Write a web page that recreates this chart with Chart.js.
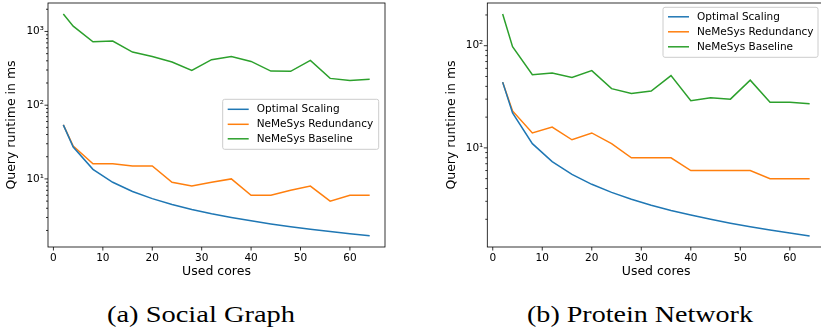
<!DOCTYPE html>
<html><head><meta charset="utf-8">
<script src="https://cdn.jsdelivr.net/npm/chart.js@4/dist/chart.umd.min.js"></script>
<style>
html,body{margin:0;padding:0;background:#fff;overflow:hidden;width:821px;height:333px;position:relative;}
#wrapA{position:absolute;left:0;top:0;width:410px;height:280px;}
#wrapB{position:absolute;left:410px;top:0;width:415px;height:280px;}
.cap{position:absolute;font-family:"Liberation Serif","Times New Roman",serif;font-size:23.5px;line-height:23.5px;white-space:nowrap;transform-origin:0 0;color:#000;}
</style></head><body>
<div id="wrapA"><canvas id="cA" width="410" height="280"></canvas></div>
<div id="wrapB"><canvas id="cB" width="415" height="280"></canvas></div>
<div class="cap" id="capA"></div>
<div class="cap" id="capB"></div>
<script>
// ---- data ----
const cores = [2,4,8,12,16,20,24,28,32,36,40,44,48,52,56,60,64];
const seriesNames = ['Optimal Scaling','NeMeSys Redundancy','NeMeSys Baseline'];
const seriesColors = ['#1f77b4','#ff7f0e','#2ca02c'];
const socialOptimal = [54,27,13.5,9,6.75,5.4,4.5,3.86,3.375,3,2.7,2.45,2.25,2.08,1.93,1.8,1.69];
const socialRedundancy = [54,28,16,16,15,15,9,8,9,10,6,6,7,8,5,6,6];
const socialBaseline = [1720,1180,725,740,525,458,385,296,414,458,392,290,288,405,231,217,224];
const proteinOptimal = [44,22,11,7.33,5.5,4.4,3.67,3.14,2.75,2.44,2.2,2.0,1.83,1.69,1.57,1.47,1.375];
const proteinRedundancy = [44,23,14,16,12,14,11,8,8,8,6,6,6,6,5,5,5];
const proteinBaseline = [204,98,52,54,49,57,38,34,36,51,29,31,30,46,28,28,27];
const xTicks = [0,10,20,30,40,50,60];
const socialYTicks = [10,100,1000];
const proteinYTicks = [10,100];
const xTitle = 'Used cores';
const yTitle = 'Query runtime in ms';
const captions = ['(a) Social Graph','(b) Protein Network'];

const SUP = {'0':'⁰','1':'¹','2':'²','3':'³','4':'⁴','5':'⁵','6':'⁶','7':'⁷','8':'⁸','9':'⁹','-':'⁻'};
function powLabel(v){ const e = Math.round(Math.log10(v)); return '10' + String(e).split('').map(c=>SUP[c]).join(''); }

function allLogTicks(min, max){
  const out=[];
  for(let e=Math.floor(Math.log10(min)); e<=Math.ceil(Math.log10(max)); e++){
    for(let m=1;m<=9;m++){ const v=m*Math.pow(10,e); if(v>=min && v<=max) out.push(v); }
  }
  return out;
}

const framePlugin = {
  id:'frame',
  afterDraw(chart, args, opts){
    const ctx=chart.ctx, a=chart.chartArea, xs=chart.scales.x, ys=chart.scales.y;
    ctx.save();
    ctx.strokeStyle='#000'; ctx.lineWidth=0.8;
    ctx.beginPath();
    xTicks.forEach(v=>{ const p=xs.getPixelForValue(v); ctx.moveTo(p,a.bottom); ctx.lineTo(p,a.bottom+3.5); });
    ys.ticks.forEach(t=>{ const p=ys.getPixelForValue(t.value); const major=opts.yMajor.includes(t.value); ctx.moveTo(a.left,p); ctx.lineTo(a.left-(major?3.5:2),p); });
    ctx.stroke();
    ctx.strokeRect(a.left, a.top, a.right-a.left, a.bottom-a.top);
    // legend
    const L=opts.legend;
    ctx.fillStyle='rgba(255,255,255,0.8)'; ctx.strokeStyle='#cccccc'; ctx.lineWidth=1;
    const r=2;
    ctx.beginPath();
    ctx.moveTo(L.x+r,L.y); ctx.lineTo(L.x+L.w-r,L.y); ctx.quadraticCurveTo(L.x+L.w,L.y,L.x+L.w,L.y+r);
    ctx.lineTo(L.x+L.w,L.y+L.h-r); ctx.quadraticCurveTo(L.x+L.w,L.y+L.h,L.x+L.w-r,L.y+L.h);
    ctx.lineTo(L.x+r,L.y+L.h); ctx.quadraticCurveTo(L.x,L.y+L.h,L.x,L.y+L.h-r);
    ctx.lineTo(L.x,L.y+r); ctx.quadraticCurveTo(L.x,L.y,L.x+r,L.y); ctx.closePath();
    ctx.fill(); ctx.stroke();
    ctx.font='10.5px "DejaVu Sans"'; ctx.textBaseline='middle'; ctx.textAlign='left';
    chart.data.datasets.forEach((ds,i)=>{
      const yy=L.y+L.rows[i];
      ctx.strokeStyle=ds.borderColor; ctx.lineWidth=1.5;
      ctx.beginPath(); ctx.moveTo(L.x+5,yy); ctx.lineTo(L.x+26,yy); ctx.stroke();
      ctx.fillStyle='#000'; ctx.fillText(ds.label, L.x+34, yy);
    });
    ctx.restore();
  }
};

function zeroPad(s){ s.paddingTop=0; s.paddingBottom=0; s.paddingLeft=0; s.paddingRight=0; }

function makeChart(id, series, yMin, yMax, yMajor, cfg){
  const datasets = series.map((vals,i)=>({
    label: seriesNames[i],
    data: cores.map((c,j)=>({x:c,y:vals[j]})),
    borderColor: seriesColors[i], backgroundColor: seriesColors[i],
    borderWidth:1.5, pointRadius:0, tension:0, fill:false
  }));
  return new Chart(document.getElementById(id), {
    type:'line',
    data:{datasets},
    plugins:[framePlugin],
    options:{
      responsive:false, animation:false, devicePixelRatio:1,
      layout:{padding:{left:0,right:cfg.padRight,top:3,bottom:0}},
      plugins:{legend:{display:false}, tooltip:{enabled:false}, frame:{yMajor, legend:cfg.legend}},
      scales:{
        x:{type:'linear', min:-1.1, max:67.1,
          afterBuildTicks(s){ s.ticks = xTicks.map(v=>({value:v})); },
          afterFit(s){ s.height = 33; zeroPad(s); },
          grid:{display:false, drawTicks:false}, border:{display:false},
          ticks:{font:{family:'DejaVu Sans', size:10.5}, color:'#000', padding:5, maxRotation:0, autoSkip:false},
          title:{display:true, text:xTitle, font:{family:'DejaVu Sans', size:12.5}, color:'#000', padding:{top:0,bottom:0.5}}
        },
        y:{type:'logarithmic', min:yMin, max:yMax,
          afterBuildTicks(s){ s.ticks = allLogTicks(yMin,yMax).map(v=>({value:v, major:yMajor.includes(v)})); },
          afterFit(s){ s.width = cfg.yWidth; zeroPad(s); },
          grid:{display:false, drawTicks:false}, border:{display:false},
          ticks:{font:{family:'DejaVu Sans', size:10.5}, color:'#000', padding:4, autoSkip:false,
            callback(v){ return yMajor.includes(v) ? powLabel(v) : ''; }},
          title:{display:true, text:yTitle, font:{family:'DejaVu Sans', size:12.5}, color:'#000', padding:{top:cfg.yTitlePad,bottom:0}}
        }
      }
    }
  });
}

makeChart('cA', [socialOptimal, socialRedundancy, socialBaseline], 1.193, 2432, socialYTicks,
  {padRight:25, yWidth:48, yTitlePad:4.5, legend:{x:222.7,y:99.3,w:156,h:50,rows:[10,25,39.5]}});
makeChart('cB', [proteinOptimal, proteinRedundancy, proteinBaseline], 1.071, 261.9, proteinYTicks,
  {padRight:0, yWidth:77.3, yTitlePad:34.5, legend:{x:253,y:7.3,w:155,h:50,rows:[9.5,24.5,39.5]}});

function placeCap(el, text, left, width){
  el.textContent = text;
  el.style.left = left+'px'; el.style.top = '302.6px';
  const w = el.getBoundingClientRect().width;
  el.style.transform = 'scaleX(' + (width / w) + ')';
}
placeCap(document.getElementById('capA'), captions[0], 107.3, 188);
placeCap(document.getElementById('capB'), captions[1], 527.3, 226);
</script>
</body></html>
